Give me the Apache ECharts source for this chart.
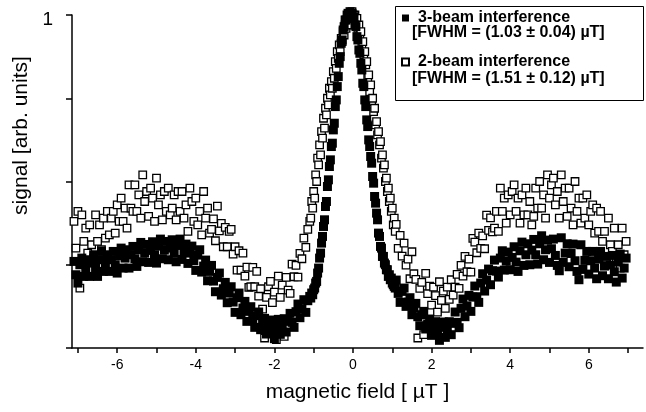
<!DOCTYPE html>
<html><head><meta charset="utf-8">
<script src="https://cdn.jsdelivr.net/npm/echarts@6/dist/echarts.min.js"></script>
<style>html,body{margin:0;padding:0;background:#fff}#c{width:646px;height:412px}</style>
</head><body><div id="c"></div>
<script>
// magnetic field [µT] sample positions (left flank, peak, right flank)
const fieldLeft = [
-7.1,-7.05,-7,-6.95,-6.9,-6.85,-6.8,-6.75,-6.7,-6.65,
-6.6,-6.55,-6.5,-6.45,-6.4,-6.35,-6.3,-6.25,-6.2,-6.15,
-6.1,-6.05,-6,-5.95,-5.9,-5.85,-5.8,-5.75,-5.7,-5.65,
-5.6,-5.55,-5.5,-5.45,-5.4,-5.35,-5.3,-5.25,-5.2,-5.15,
-5.1,-5.05,-5,-4.95,-4.9,-4.85,-4.8,-4.75,-4.7,-4.65,
-4.6,-4.55,-4.5,-4.45,-4.4,-4.35,-4.3,-4.25,-4.2,-4.15,
-4.1,-4.05,-4,-3.95,-3.9,-3.85,-3.8,-3.75,-3.7,-3.65,
-3.6,-3.55,-3.5,-3.45,-3.4,-3.35,-3.3,-3.25,-3.2,-3.15,
-3.1,-3.05,-3,-2.95,-2.9,-2.85,-2.8,-2.75,-2.7,-2.65,
-2.6,-2.55,-2.5,-2.45,-2.4,-2.35,-2.3,-2.25,-2.2,-2.15,
-2.1,-2.05,-2,-1.95,-1.9,-1.85,-1.8,-1.75,-1.7,-1.65,
-1.6,-1.55,-1.5,-1.45,-1.4,-1.35,-1.3,-1.25,-1.2,-1.15,
-1.1];
const fieldPeak = [
-1.075,-1.05,-1.025,-1,-0.975,-0.95,-0.925,-0.9,-0.875,-0.85,
-0.825,-0.8,-0.775,-0.75,-0.725,-0.7,-0.675,-0.65,-0.625,-0.6,
-0.575,-0.55,-0.525,-0.5,-0.475,-0.45,-0.425,-0.4,-0.375,-0.35,
-0.325,-0.3,-0.275,-0.25,-0.225,-0.2,-0.175,-0.15,-0.125,-0.1,
-0.075,-0.05,-0.025,0,0.025,0.05,0.075,0.1,0.125,0.15,
0.175,0.2,0.225,0.25,0.275,0.3,0.325,0.35,0.375,0.4,
0.425,0.45,0.475,0.5,0.525,0.55,0.575,0.6,0.625,0.65,
0.675,0.7,0.725,0.75,0.775,0.8,0.825,0.85,0.875,0.9,
0.925,0.95,0.975,1,1.025,1.05,1.075];
const fieldRight = [
1.1,1.15,1.2,1.25,1.3,1.35,1.4,1.45,1.5,1.55,
1.6,1.65,1.7,1.75,1.8,1.85,1.9,1.95,2,2.05,
2.1,2.15,2.2,2.25,2.3,2.35,2.4,2.45,2.5,2.55,
2.6,2.65,2.7,2.75,2.8,2.85,2.9,2.95,3,3.05,
3.1,3.15,3.2,3.25,3.3,3.35,3.4,3.45,3.5,3.55,
3.6,3.65,3.7,3.75,3.8,3.85,3.9,3.95,4,4.05,
4.1,4.15,4.2,4.25,4.3,4.35,4.4,4.45,4.5,4.55,
4.6,4.65,4.7,4.75,4.8,4.85,4.9,4.95,5,5.05,
5.1,5.15,5.2,5.25,5.3,5.35,5.4,5.45,5.5,5.55,
5.6,5.65,5.7,5.75,5.8,5.85,5.9,5.95,6,6.05,
6.1,6.15,6.2,6.25,6.3,6.35,6.4,6.45,6.5,6.55,
6.6,6.65,6.7,6.75,6.8,6.85,6.9,6.95];

// 3-beam interference signal (filled squares)
const threeBeamLeft = [
0.26,0.22,0.195,0.25,0.27,0.215,0.24,0.265,0.215,0.255,
0.28,0.24,0.215,0.265,0.29,0.23,0.255,0.28,0.23,0.265,
0.29,0.25,0.225,0.277,0.30,0.24,0.27,0.295,0.24,0.28,
0.305,0.268,0.245,0.295,0.317,0.259,0.285,0.311,0.257,0.293,
0.319,0.28,0.255,0.306,0.327,0.268,0.294,0.32,0.265,0.30,
0.325,0.285,0.259,0.308,0.327,0.266,0.29,0.312,0.254,0.285,
0.306,0.262,0.233,0.279,0.295,0.228,0.246,0.264,0.202,0.23,
0.248,0.201,0.169,0.212,0.225,0.159,0.178,0.197,0.136,0.165,
0.184,0.138,0.107,0.151,0.165,0.10,0.12,0.14,0.08,0.11,
0.124,0.087,0.062,0.097,0.108,0.055,0.072,0.089,0.042,0.067,
0.084,0.05,0.028,0.067,0.086,0.041,0.064,0.088,0.048,0.08,
0.104,0.077,0.062,0.109,0.132,0.091,0.118,0.145,0.107,0.142,
0.155];
const threeBeamPeak = [
0.15,0.165,0.16,0.175,0.18,0.195,0.20,0.225,0.24,0.27,
0.285,0.315,0.335,0.365,0.385,0.425,0.44,0.485,0.505,0.545,
0.565,0.605,0.615,0.655,0.675,0.725,0.745,0.785,0.815,0.855,
0.875,0.915,0.925,0.955,0.965,0.985,0.985,1.0,1.005,0.995,
1.01,0.995,1.005,0.99,0.995,0.97,0.965,0.935,0.925,0.895,
0.885,0.855,0.835,0.795,0.785,0.745,0.725,0.685,0.665,0.625,
0.605,0.575,0.555,0.515,0.495,0.455,0.435,0.405,0.385,0.345,
0.335,0.305,0.30,0.275,0.275,0.255,0.25,0.235,0.235,0.215,
0.22,0.205,0.21,0.195,0.19,0.185,0.18];
const threeBeamRight = [
0.204,0.164,0.137,0.17,0.18,0.125,0.138,0.151,0.10,0.121,
0.134,0.094,0.067,0.10,0.11,0.057,0.072,0.087,0.038,0.062,
0.079,0.045,0.023,0.062,0.078,0.032,0.055,0.079,0.04,0.074,
0.108,0.077,0.061,0.119,0.147,0.094,0.126,0.158,0.11,0.153,
0.186,0.154,0.137,0.195,0.223,0.171,0.204,0.237,0.19,0.232,
0.264,0.231,0.213,0.27,0.292,0.234,0.261,0.288,0.235,0.272,
0.304,0.258,0.23,0.292,0.318,0.248,0.28,0.313,0.25,0.294,
0.326,0.28,0.252,0.313,0.337,0.265,0.295,0.324,0.257,0.298,
0.327,0.278,0.248,0.232,0.331,0.257,0.285,0.313,0.244,0.284,
0.312,0.262,0.23,0.205,0.31,0.236,0.263,0.29,0.222,0.262,
0.29,0.24,0.208,0.267,0.29,0.217,0.246,0.275,0.208,0.249,
0.278,0.229,0.198,0.258,0.282,0.21,0.24,0.27];

// 2-beam interference signal (open squares)
const twoBeamLeft = [
0.38,0.30,0.41,0.18,0.40,0.32,0.36,0.285,0.37,0.31,
0.27,0.40,0.32,0.37,0.295,0.39,0.33,0.41,0.34,0.39,
0.41,0.345,0.43,0.38,0.45,0.38,0.42,0.36,0.49,0.42,
0.41,0.49,0.41,0.46,0.39,0.52,0.44,0.47,0.395,0.48,
0.45,0.38,0.51,0.43,0.46,0.385,0.47,0.41,0.48,0.40,
0.42,0.46,0.385,0.47,0.41,0.47,0.39,0.43,0.35,0.48,
0.44,0.38,0.45,0.37,0.41,0.34,0.47,0.39,0.42,0.345,
0.356,0.388,0.322,0.426,0.352,0.374,0.304,0.362,0.304,0.35,
0.356,0.282,0.304,0.234,0.292,0.234,0.285,0.216,0.243,0.182,
0.184,0.242,0.184,0.23,0.156,0.178,0.117,0.03,0.152,0.184,
0.20,0.136,0.168,0.025,0.216,0.152,0.189,0.035,0.212,0.174,
0.164,0.252,0.214,0.248,0.213,0.284,0.268,0.33,0.302,0.356,
0.38];
const twoBeamPeak = [
0.39,0.44,0.42,0.47,0.45,0.52,0.50,0.57,0.55,0.61,
0.58,0.65,0.63,0.69,0.66,0.72,0.70,0.75,0.73,0.78,
0.76,0.80,0.78,0.83,0.81,0.86,0.84,0.89,0.87,0.91,
0.89,0.93,0.92,0.95,0.94,0.97,0.96,0.98,0.99,0.97,
1.00,0.99,1.01,1.00,0.99,1.00,0.98,0.99,0.96,0.97,
0.94,0.95,0.91,0.92,0.88,0.89,0.85,0.86,0.81,0.82,
0.77,0.79,0.74,0.75,0.71,0.72,0.67,0.68,0.64,0.65,
0.61,0.62,0.57,0.58,0.54,0.55,0.50,0.51,0.47,0.48,
0.44,0.45,0.41,0.42,0.37,0.39,0.35];
const twoBeamRight = [
0.371,0.299,0.338,0.276,0.315,0.249,0.267,0.208,0.289,0.223,
0.206,0.03,0.179,0.197,0.04,0.224,0.163,0.186,0.129,0.183,
0.157,0.108,0.199,0.143,0.171,0.119,0.183,0.146,0.205,0.159,
0.183,0.221,0.179,0.248,0.216,0.275,0.229,0.267,0.228,0.329,
0.318,0.286,0.345,0.299,0.337,0.298,0.399,0.353,0.391,0.349,
0.36,0.41,0.35,0.48,0.41,0.45,0.375,0.46,0.40,0.47,
0.49,0.41,0.45,0.375,0.46,0.40,0.48,0.40,0.44,0.37,
0.395,0.48,0.42,0.50,0.42,0.46,0.39,0.52,0.45,0.49,
0.51,0.43,0.47,0.39,0.52,0.44,0.48,0.395,0.48,0.42,
0.37,0.50,0.41,0.45,0.375,0.45,0.39,0.46,0.37,0.41,
0.43,0.345,0.42,0.35,0.41,0.32,0.35,0.27,0.39,0.31,
0.29,0.36,0.27,0.31,0.24,0.36,0.28,0.32];

// axis ticks / labels
const xTickValues = [-7,-6,-5,-4,-3,-2,-1,0,1,2,3,4,5,6,7];
const xTickLabels = [-6,-4,-2,0,2,4,6];
const yTickLabels = [1];

const seriesNames = ['3-beam interference','2-beam interference'];
const fwhmTexts = ['[FWHM = (1.03 \u00b1 0.04) \u00b5T]','[FWHM = (1.51 \u00b1 0.12) \u00b5T]'];

function zip(xs, ys){
  const n = Math.min(xs.length, ys.length);
  if (xs.length !== ys.length) console.warn('length mismatch', xs.length, ys.length);
  const out = [];
  for (let i = 0; i < n; i++) out.push([xs[i], ys[i]]);
  return out;
}
const threeBeam = zip(fieldLeft, threeBeamLeft).concat(zip(fieldPeak, threeBeamPeak), zip(fieldRight, threeBeamRight));
const twoBeam = zip(fieldLeft, twoBeamLeft).concat(zip(fieldPeak, twoBeamPeak), zip(fieldRight, twoBeamRight));

const FONT = '"Liberation Sans", Arial, Helvetica, sans-serif';
const chart = echarts.init(document.getElementById('c'), null, {renderer: 'canvas'});
chart.setOption({
  animation: false,
  backgroundColor: '#fff',
  textStyle: {fontFamily: FONT, color: '#000'},
  grid: {left: 72, right: 3, top: 15, bottom: 64, containLabel: false},
  xAxis: {
    type: 'value', min: -7.15, max: 7.38,
    name: 'magnetic field [ \u00b5T ]', nameLocation: 'middle', nameGap: 34,
    nameTextStyle: {fontSize: 21, color: '#000', fontFamily: FONT},
    axisLine: {onZero: false, lineStyle: {color: '#000', width: 1.5}},
    axisTick: {show: true, inside: false, length: 5, lineStyle: {color: '#000', width: 1.5}, customValues: xTickValues},
    axisLabel: {customValues: xTickLabels, fontSize: 14, color: '#000', margin: 10, fontFamily: FONT},
    splitLine: {show: false}
  },
  yAxis: {
    type: 'value', min: 0, max: 1, interval: 0.25,
    name: 'signal [arb. units]', nameLocation: 'middle', nameGap: 35, nameRotate: 90,
    nameTextStyle: {fontSize: 21, color: '#000', fontFamily: FONT, padding: [0, 0, 0, 92]},
    axisLine: {show: true, onZero: false, lineStyle: {color: '#000', width: 1.5}},
    axisTick: {show: true, length: 6, lineStyle: {color: '#000', width: 1.5}},
    axisLabel: {
      fontSize: 19, color: '#000', margin: 19, fontFamily: FONT,
      verticalAlign: 'top', lineHeight: 10,
      formatter: v => (yTickLabels.indexOf(v) >= 0 ? String(v) : '')
    },
    splitLine: {show: false}
  },
  legend: {
    data: seriesNames,
    left: 401, top: 9, orient: 'vertical',
    itemWidth: 7, itemHeight: 7, itemGap: 26, icon: 'rect',
    padding: 0,
    textStyle: {fontSize: 16, fontWeight: 'bold', color: '#000', lineHeight: 18, padding: [0, 0, 0, 4], fontFamily: FONT}
  },
  graphic: [
    {type: 'rect', shape: {x: 395.5, y: 6.5, width: 248, height: 94}, style: {fill: 'none', stroke: '#000', lineWidth: 1}, z: 10},
    {type: 'text', x: 412, y: 33, style: {text: fwhmTexts[0], font: 'bold 16px ' + FONT, fill: '#000', textVerticalAlign: 'middle'}, z: 10},
    {type: 'text', x: 412, y: 79, style: {text: fwhmTexts[1], font: 'bold 16px ' + FONT, fill: '#000', textVerticalAlign: 'middle'}, z: 10}
  ],
  series: [
    {
      name: seriesNames[1], type: 'scatter', symbol: 'rect', symbolSize: 7.5, clip: false,
      data: twoBeam, itemStyle: {color: '#fff', borderColor: '#000', borderWidth: 1.3, opacity: 1},
      emphasis: {disabled: true}, z: 2
    },
    {
      name: seriesNames[0], type: 'scatter', symbol: 'rect', symbolSize: 9, clip: false,
      data: threeBeam, itemStyle: {color: '#000', opacity: 1},
      emphasis: {disabled: true}, z: 3
    }
  ]
});
</script>
</body></html>
